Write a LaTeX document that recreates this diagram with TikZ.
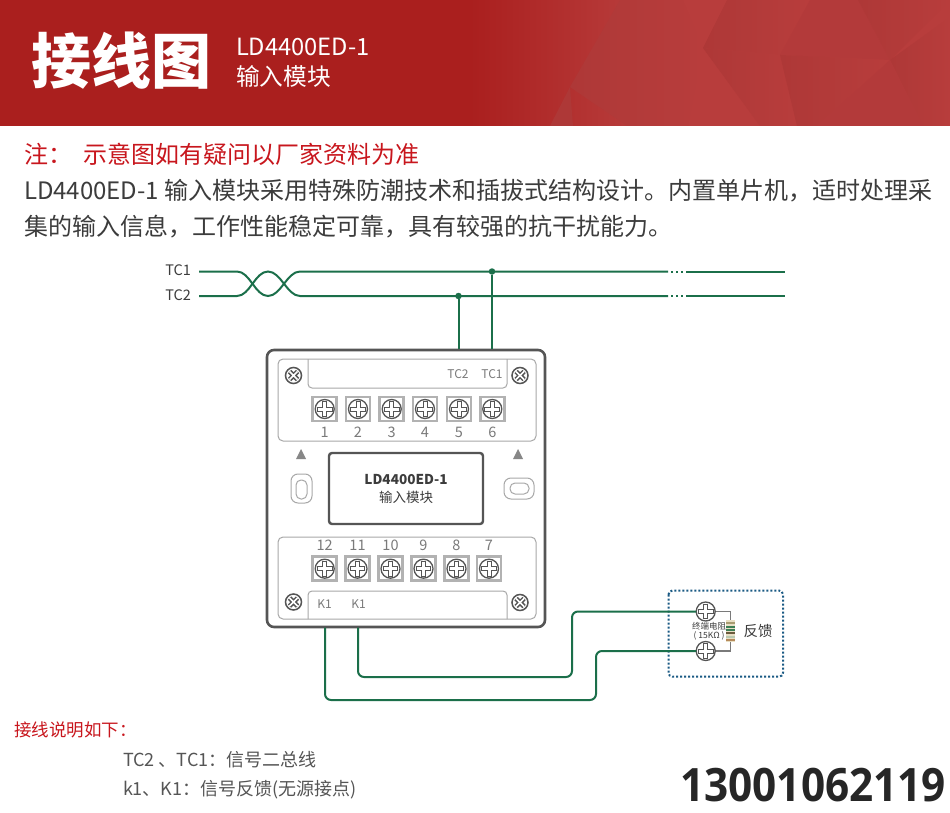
\documentclass[tikz,border=0pt]{standalone}
\usepackage{fontspec}
\setmainfont{Noto Sans CJK SC}
\newfontfamily\numfont[FakeStretch=0.92]{Open Sans}
\usetikzlibrary{calc}
\definecolor{wire}{HTML}{1B6F4A}
\definecolor{hdr}{HTML}{AA1F1E}
\definecolor{hdrb}{HTML}{B83D3C}
\definecolor{hdrd}{HTML}{AE3837}
\definecolor{txt}{HTML}{3C3C3C}
\definecolor{txtb}{HTML}{555555}
\definecolor{redt}{HTML}{C8161D}
\definecolor{panel}{HTML}{A8A8A8}
\definecolor{termc}{HTML}{B2B2B2}
\definecolor{dk}{HTML}{555555}
\definecolor{numc}{HTML}{7A7A7A}
\definecolor{dotb}{HTML}{1A5A84}
\definecolor{rbody}{HTML}{E8DFC4}
\definecolor{rca}{HTML}{A89B70}
\definecolor{rcb}{HTML}{3E7F55}
\definecolor{rcc}{HTML}{6B5A3C}
\definecolor{rcd}{HTML}{B9C9B0}
\definecolor{rce}{HTML}{B58A5A}
\tikzset{
 x=1pt,y=-1pt,
 lbl/.style={inner sep=0pt,outer sep=0pt},
 lft/.style={lbl,anchor=west},
 wireline/.style={draw=wire,line width=2pt},
 facet/.style={left color=hdrd,right color=hdrb,shading angle=90},
 panelbox/.style={draw=panel,line width=1pt,rounded corners=5pt},
 termbox/.style={draw=termc,line width=2.6pt,minimum size=24pt,inner sep=0pt,fill=white},
 numlbl/.style={lbl,text=numc,font=\fontsize{14.5}{16}\selectfont},
 slbl/.style={lbl,text=numc,font=\fontsize{12}{14}\selectfont},
 junction/.style={circle,fill=wire,minimum size=6.5pt,inner sep=0pt},
}
\newcommand{\plusmark}[2][9.5]{%
 \draw[dk,line width=1.3pt,fill=white] (#2) circle (#1pt);
 \draw[dk,line width=5pt] ($(#2)+(-#1+1.6,0)$) -- ($(#2)+(#1-1.6,0)$) ($(#2)+(0,-#1+1.6)$) -- ($(#2)+(0,#1-1.6)$);
 \draw[white,line width=3pt] ($(#2)+(-#1+2.6,0)$) -- ($(#2)+(#1-2.6,0)$) ($(#2)+(0,-#1+2.6)$) -- ($(#2)+(0,#1-2.6)$);
}
\newcommand{\screwx}[1]{%
 \draw[dk,line width=1.5pt,fill=white] (#1) circle (8pt);
 \draw[dk,line width=4.6pt] ($(#1)+(-4,-4)$) -- ($(#1)+(4,4)$) ($(#1)+(-4,4)$) -- ($(#1)+(4,-4)$);
 \draw[white,line width=1.6pt] ($(#1)+(-4,-4)$) -- ($(#1)+(4,4)$) ($(#1)+(-4,4)$) -- ($(#1)+(4,-4)$);
}
\begin{document}
\begin{tikzpicture}
\useasboundingbox (0,0) rectangle (950,813);
\fill[white] (0,0) rectangle (950,813);
% header
\fill[hdr] (0,0) rectangle (950,126);
\shade[left color=hdr,right color=hdrb,shading angle=90] (470,0) rectangle (640,126);
\fill[hdrb] (640,0) rectangle (950,126);
\shade[facet] (620,0) -- (570,87) -- (627,126) -- (688,126) -- (703,47) -- (683,0) -- cycle;
\fill[hdrb] (683,0) -- (727,0) -- (703,47) -- cycle;
\shade[facet] (727,0) -- (810,0) -- (780,55) -- (703,48) -- cycle;
\fill[hdrb!50!hdrd] (810,0) -- (858,0) -- (890,60) -- (780,55) -- cycle;
\shade[facet] (858,0) -- (950,0) -- (933,17) -- (890,60) -- cycle;
\shade[facet] (890,60) -- (950,17) -- (950,126) -- (923,126) -- cycle;
\shade[facet] (703,48) -- (780,55) -- (797,126) -- (760,126) -- cycle;
\shade[facet] (780,55) -- (890,60) -- (817,126) -- (797,126) -- cycle;
\fill[hdrb!50!hdrd] (890,60) -- (923,126) -- (817,126) -- cycle;
\fill[hdrd] (570,87) -- (550,126) -- (573,126) -- cycle;
\node[lft,text=white,font=\fontsize{60}{62}\bfseries\selectfont] (title) at (31,61) {接线图};
\node[lft,text=white,font=\fontsize{23.7}{26}\selectfont] (model) at (236,47) {LD4400ED-1};
\node[lft,text=white,font=\fontsize{23.7}{26}\selectfont] (name) at (236,76) {输入模块};
% intro text
\node[lft,text=redt,font=\fontsize{24}{26}\selectfont] (note) at (24,154) {注：};
\node[lft,text=redt,font=\fontsize{24}{26}\selectfont] (notet) at (83,154) {示意图如有疑问以厂家资料为准};
\node[lft,text=txt,font=\fontsize{24}{26}\selectfont] (line1) at (24,191) {LD4400ED-1 输入模块采用特殊防潮技术和插拔式结构设计。内置单片机，适时处理采};
\node[lft,text=txt,font=\fontsize{24}{26}\selectfont] (line2) at (24,227) {集的输入信息，工作性能稳定可靠，具有较强的抗干扰能力。};
% bus
\node[lbl,anchor=east,text=txt,font=\fontsize{14.5}{16}\selectfont] (tc1l) at (191,270) {TC1};
\node[lbl,anchor=east,text=txt,font=\fontsize{14.5}{16}\selectfont] (tc2l) at (191,295) {TC2};
\coordinate (tc1a) at (199,271.5);
\coordinate (tc2a) at (199,296);
\coordinate (tc1b) at (668,271.5);
\coordinate (tc2b) at (668,296);
\coordinate (tc1c) at (686,271.5);
\coordinate (tc2c) at (686,296);
\coordinate (tc1d) at (785,271.5);
\coordinate (tc2d) at (785,296);
\draw[wireline] (tc1a) -- (237,271.5) .. controls (250,271.5) and (255,296) .. (268,296) .. controls (281,296) and (287,271.5) .. (300,271.5) -- (tc1b);
\draw[wireline] (tc2a) -- (237,296) .. controls (250,296) and (255,271.5) .. (268,271.5) .. controls (281,271.5) and (287,296) .. (300,296) -- (tc2b);
\draw[wireline] (tc1c) -- (tc1d);
\draw[wireline] (tc2c) -- (tc2d);
\foreach \xx in {672,677,682}{
 \fill[wire] (\xx-1,270.5) rectangle (\xx+1,272.5);
 \fill[wire] (\xx-1,295) rectangle (\xx+1,297);
}
% module
\node[draw=dk,line width=2.6pt,rounded corners=7pt,fill=white,minimum width=278pt,minimum height=277pt,inner sep=0pt] (module) at (406,488.5) {};
\node[junction] (j1) at (492,271.5) {};
\node[junction] (j2) at (458.5,296) {};
\draw[wireline] (j1) -- (j1 |- module.north);
\draw[wireline] (j2) -- (j2 |- module.north);
% panels
\draw[panelbox] (278,359) rectangle (536,441);
\draw[panel,line width=1pt] (308,359) -- (308,384) arc[start angle=180,end angle=90,radius=4] -- (503,388) arc[start angle=90,end angle=0,radius=4] -- (507,359);
\draw[panelbox] (278,537) rectangle (536,619);
\draw[panel,line width=1pt] (308,619) -- (308,595) arc[start angle=180,end angle=270,radius=4] -- (503,591) arc[start angle=270,end angle=360,radius=4] -- (507,619);
\screwx{293.5,375.5}
\screwx{520,375.5}
\screwx{293.5,602}
\screwx{520,602.5}
% terminals top
\foreach \n/\xx in {1/324.7,2/358,3/391.7,4/425,5/459,6/492.3}{
 \node[termbox] (t\n) at (\xx,409) {};
 \plusmark{\xx,409}
 \node[numlbl] (n\n) at (\xx,432.5) {\n};
}
\foreach \n/\xx in {12/324.7,11/357.5,10/390.5,9/423.5,8/456.5,7/489}{
 \node[termbox] (t\n) at (\xx,568.7) {};
 \plusmark{\xx,568.7}
 \node[numlbl] (n\n) at (\xx,545.7) {\n};
}
\node[slbl] (ltc2) at (458,374) {TC2};
\node[slbl] (ltc1) at (492,374) {TC1};
\node[slbl] (lk1a) at (324.5,604) {K1};
\node[slbl] (lk1b) at (358.5,604) {K1};
% triangles
\fill[numc!90] (296,459) -- (306,459) -- (301,449) -- cycle;
\fill[numc!90] (513,459) -- (523,459) -- (518,449) -- cycle;
% ovals
\draw[panel,line width=1pt,rounded corners=7pt] (291,474) rectangle (312,503);
\draw[panel,line width=1pt,rounded corners=5pt] (296,480) rectangle (307,499);
\draw[panel,line width=1pt,rounded corners=7pt] (504,478) rectangle (534,499);
\draw[panel,line width=1pt,rounded corners=5pt] (510,483) rectangle (529,494);
% center
\node[draw=dk,line width=2.4pt,rounded corners=3pt,minimum width=154pt,minimum height=71pt,inner sep=0pt] (ctr) at (406,488.5) {};
\node[lbl,text=txt,font=\fontsize{13.6}{15}\bfseries\selectfont] (ctr1) at (406,480) {LD4400ED-1};
\node[lbl,text=txt,font=\fontsize{13.5}{15}\selectfont] (ctr2) at (406,497) {输入模块};
% feedback box
\draw[dotb,line width=2pt,dash pattern=on 2pt off 2pt,rounded corners=4pt] (668.5,590.5) rectangle (783,676.7);
\node[circle,minimum size=19pt,inner sep=0pt] (fb1) at (705.7,611.5) {};
\node[circle,minimum size=19pt,inner sep=0pt] (fb2) at (705.7,651) {};
\coordinate (rtop) at (730.5,620);
\coordinate (rbot) at (730.5,642);
\draw[numc,line width=1.2pt] (fb1) -- (730.5,611.5) -- (rtop);
\draw[numc,line width=1.2pt] (fb2) -- (730.5,651) -- (rbot);
\plusmark[9.5]{705.7,611.5}
\plusmark[9.5]{705.7,651}
\fill[rbody] (726,620) rectangle (735,642);
\foreach \yy/\cc in {622/rca,626/rcb,629/rcb,632/rcc,636/rcd,639/rce}{
 \fill[\cc] (726,\yy) rectangle (735,\yy+1.6);
}
\node[lbl,text=txt,font=\fontsize{8.5}{10}\selectfont] (res1) at (709,626) {终端电阻};
\node[lbl,text=txt,font=\fontsize{8.5}{10}\selectfont] (res2) at (709,636) {( 15KΩ )};
\node[lbl,text=txt,font=\fontsize{14.5}{16}\selectfont] (fbl) at (758,631) {反馈};
% feedback wires
\coordinate (k1a) at (325,627.7);
\coordinate (k1b) at (358,627.7);
\draw[wireline,rounded corners=6pt] (k1a) -- (325,700) -- (596,700) -- (596,651) -- (fb2.west);
\draw[wireline,rounded corners=6pt] (k1b) -- (358,677) -- (572,677) -- (572,611.5) -- (fb1.west);
% bottom text
\node[lft,text=redt,font=\fontsize{17.5}{19}\selectfont] (exp) at (14,730) {接线说明如下：};
\node[lft,text=txtb,font=\fontsize{18}{20}\selectfont] (exp1) at (123,760) {TC2 、TC1：信号二总线};
\node[lft,text=txtb,font=\fontsize{18}{20}\selectfont] (exp2) at (123,790) {k1、K1：信号反馈(无源接点)};
\node[lbl,anchor=east,text=black!85,font=\numfont\fontsize{46}{48}\bfseries\selectfont] (phone) at (946,785.5) {13001062119};
\end{tikzpicture}
\end{document}
